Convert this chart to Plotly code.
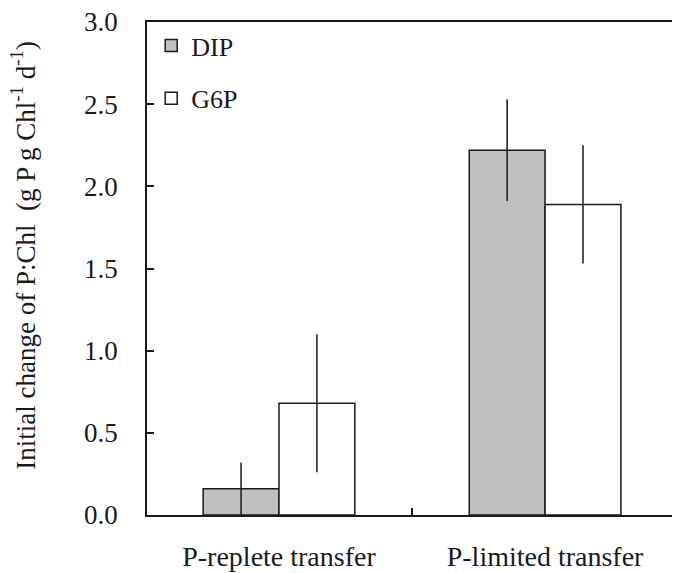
import plotly.graph_objects as go

categories = ["P-replete transfer", "P-limited transfer"]
dip = [0.16, 2.22]
dip_err = [0.16, 0.31]
g6p = [0.68, 1.89]
g6p_err = [0.42, 0.36]
y_ticks = [0.0, 0.5, 1.0, 1.5, 2.0, 2.5, 3.0]
y_title = "Initial change of P:Chl  (g P g Chl<sup>-1</sup> d<sup>-1</sup>)"

FONT = "Times New Roman, Liberation Serif, serif"
INK = "#1a1a1a"
xpos = list(range(len(categories)))

fig = go.Figure()
fig.add_trace(go.Bar(
    x=xpos, y=dip, name="DIP",
    marker=dict(color="#c0c0c0", line=dict(color=INK, width=1.5)),
    error_y=dict(type="data", array=dip_err, visible=True, width=0, thickness=1.5, color=INK),
    legendgroup="a",
))
fig.add_trace(go.Bar(
    x=xpos, y=g6p, name="G6P",
    marker=dict(color="white", line=dict(color=INK, width=1.5)),
    error_y=dict(type="data", array=g6p_err, visible=True, width=0, thickness=1.5, color=INK),
    legendgroup="b",
))

fig.update_layout(
    width=673, height=573,
    margin=dict(l=147, r=1, t=22, b=55),
    paper_bgcolor="white", plot_bgcolor="white",
    barmode="group", bargap=0.43, bargroupgap=0,
    font=dict(family=FONT, size=27, color=INK),
    legend=dict(x=0.008, y=1.0, xanchor="left", yanchor="top",
                bgcolor="rgba(0,0,0,0)", font=dict(size=26, family=FONT),
                traceorder="grouped", tracegroupgap=16,
                itemwidth=30),
    showlegend=True,
    annotations=[dict(
        text=y_title, textangle=-90, xref="paper", yref="paper",
        x=-0.236, y=0.526, xanchor="center", yanchor="middle",
        showarrow=False, font=dict(size=27, family=FONT, color=INK),
    )],
)
fig.update_xaxes(
    range=[-0.496, 1.477],
    tickvals=xpos, ticktext=categories, ticks="",
    showline=True, linecolor=INK, linewidth=1.5, mirror=True,
    showgrid=False, zeroline=False,
    ticklabelstandoff=16,
    tickfont=dict(family=FONT, size=28),
    minor=dict(tickvals=[0.5], ticks="inside", ticklen=7, tickcolor=INK, tickwidth=1.5, showgrid=False),
)
fig.update_yaxes(
    range=[0, 3.0],
    tickvals=y_ticks, ticktext=[f"{v:.1f}" for v in y_ticks],
    ticks="inside", ticklen=7, tickwidth=1.5, tickcolor=INK,
    showline=True, linecolor=INK, linewidth=1.5, mirror=False,
    showgrid=False, zeroline=False,
    ticklabelstandoff=22,
    tickfont=dict(family=FONT, size=27),
)

fig.write_html("out.html")
